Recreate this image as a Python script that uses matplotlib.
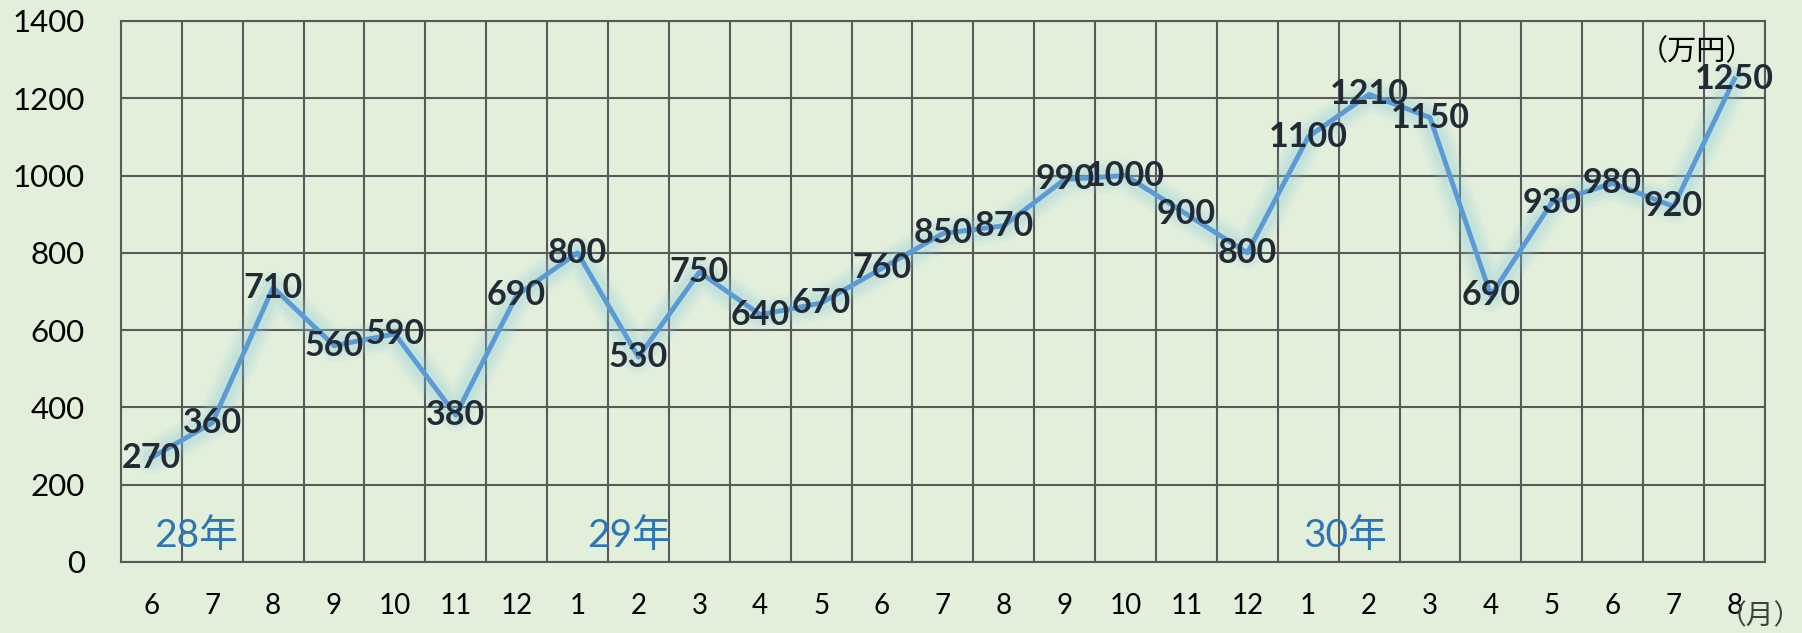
import matplotlib
matplotlib.use('Agg')
import matplotlib.pyplot as plt
import numpy as np

# ======================
# DATA
# ======================
months = ['6', '7', '8', '9', '10', '11', '12',
          '1', '2', '3', '4', '5', '6', '7', '8', '9', '10', '11', '12',
          '1', '2', '3', '4', '5', '6', '7', '8']
values = [270, 360, 710, 560, 590, 380, 690,
          800, 530, 750, 640, 670, 760, 850, 870, 990, 1000, 900, 800,
          1100, 1210, 1150, 690, 930, 980, 920, 1250]
year_labels = ['28年', '29年', '30年']
year_pos = [0.73, 7.84, 19.6]
y_ticks = [0, 200, 400, 600, 800, 1000, 1200, 1400]

# Aesthetic parameters
plt.rcParams['font.family'] = ['Lato', 'Noto Sans CJK JP', 'DejaVu Sans']
bg = '#E2EFDA'
grid_color = '#595959'
line_color = '#5B9BD5'
label_color = '#222A35'

fig = plt.figure(figsize=(18.02, 6.33), dpi=100, facecolor=bg)
ax = fig.add_axes([0.0671, 0.1122, 0.9123, 0.8547])
ax.set_facecolor(bg)

x = np.arange(len(values))

# grid: cell borders between categories
for b in np.arange(-0.5, len(values), 1.0):
    ax.axvline(b, color=grid_color, lw=1.5, zorder=1)
for t in y_ticks:
    ax.axhline(t, color=grid_color, lw=1.5, zorder=1)

# glow under line
for w, a in [(24, 0.10), (18, 0.12), (12, 0.16)]:
    ax.plot(x, values, color='#8CC8DC', lw=w, alpha=a, solid_capstyle='round',
            solid_joinstyle='round', zorder=2)
ax.plot(x, values, color=line_color, lw=3.5, solid_joinstyle='round', zorder=3)

# data labels, centered on points
for xi, v in zip(x, values):
    ax.text(xi, v, str(v), ha='center', va='center', fontsize=24.5,
            fontweight='bold', color=label_color, zorder=4)

# year labels
for p, s in zip(year_pos, year_labels):
    ax.text(p, 66, s, ha='center', va='center', fontsize=28,
            color='#2E75B6', zorder=4)

ax.text(25.38, 1322, '（万円）', ha='center', va='center', fontsize=21,
        color='black', zorder=4)
fig.text(0.977, 0.026, '（月）', ha='center', va='center', fontsize=20,
         color='#404040')

ax.set_xlim(-0.5, len(values) - 0.5)
ax.set_ylim(0, 1400)
ax.set_xticks(x)
ax.set_xticklabels(months)
ax.set_yticks(y_ticks)
ax.tick_params(axis='x', length=0, pad=22, labelsize=20)
ax.tick_params(axis='y', length=0, pad=26, labelsize=22.5)
for sp in ax.spines.values():
    sp.set_color(grid_color)
    sp.set_linewidth(1.5)

# Graph saved to PNG file
fig.savefig('out.png', dpi=100, facecolor=bg)
